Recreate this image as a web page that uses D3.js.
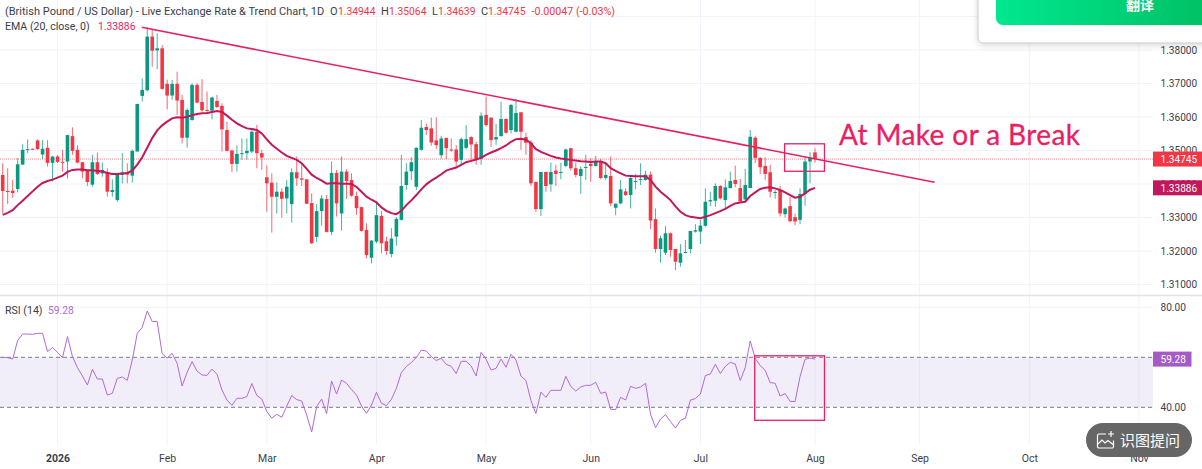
<!DOCTYPE html>
<html>
<head>
<meta charset="utf-8">
<title>GBP/USD</title>
<script src="https://cdn.jsdelivr.net/npm/d3@7"></script>
<style>
  html, body { margin: 0; padding: 0; background: #fff; overflow: hidden; }
  svg { display: block; }
  text { font-family: Roboto, sans-serif; }
</style>
</head>
<body>
<div id="chart"></div>
<script>
// daily candles
var opens = [
  1.3427,1.3379,1.3380,1.3385,1.3458,1.3502,1.3505,1.3530,1.3488,1.3508,
  1.3463,1.3482,1.3466,1.3467,1.3543,1.3502,1.3465,1.3442,1.3398,1.3465,
  1.3432,1.3435,1.3376,1.3352,1.3427,1.3435,1.3425,1.3497,1.3663,1.3680,
  1.3840,1.3799,1.3805,1.3699,1.3664,1.3699,1.3651,1.3538,1.3591,1.3696,
  1.3645,1.3621,1.3619,1.3648,1.3633,1.3561,1.3500,1.3460,1.3490,1.3492,
  1.3497,1.3556,1.3492,1.3420,1.3404,1.3362,1.3377,1.3357,1.3340,1.3435,
  1.3417,1.3414,1.3343,1.3242,1.3319,1.3355,1.3257,1.3433,1.3312,1.3437,
  1.3412,1.3364,1.3331,1.3263,1.3180,1.3228,1.3305,1.3229,1.3191,1.3243,
  1.3293,1.3397,1.3438,1.3392,1.3502,1.3570,1.3566,1.3530,1.3486,1.3537,
  1.3503,1.3503,1.3472,1.3508,1.3540,1.3519,1.3475,1.3606,1.3598,1.3533,
  1.3543,1.3594,1.3561,1.3556,1.3614,1.3540,1.3524,1.3406,1.3325,1.3436,
  1.3399,1.3440,1.3435,1.3454,1.3507,1.3447,1.3424,1.3449,1.3460,1.3454,
  1.3465,1.3418,1.3424,1.3329,1.3342,1.3378,1.3367,1.3407,1.3412,1.3412,
  1.3428,1.3295,1.3206,1.3195,1.3253,1.3206,1.3165,1.3195,1.3206,1.3258,
  1.3258,1.3275,1.3348,1.3350,1.3394,1.3352,1.3388,1.3412,1.3388,1.3354,
  1.3388,1.3538,1.3478,1.3454,1.3435,1.3375,1.3382,1.3310,1.3334,1.3301,
  1.3293,1.3370,1.3467,1.34944
];
var highs = [
  1.3462,1.3447,1.3412,1.3477,1.3519,1.3533,1.3506,1.3533,1.3531,1.3531,
  1.3484,1.3487,1.3502,1.3546,1.3569,1.3516,1.3465,1.3442,1.3487,1.3494,
  1.3464,1.3447,1.3414,1.3432,1.3492,1.3462,1.3503,1.3639,1.3715,1.3868,
  1.3860,1.3850,1.3815,1.3711,1.3711,1.3735,1.3666,1.3626,1.3701,1.3701,
  1.3713,1.3676,1.3661,1.3666,1.3641,1.3586,1.3502,1.3516,1.3536,1.3536,
  1.3566,1.3576,1.3502,1.3455,1.3432,1.3405,1.3387,1.3412,1.3447,1.3482,
  1.3457,1.3414,1.3372,1.3340,1.3367,1.3367,1.3467,1.3442,1.3482,1.3444,
  1.3432,1.3377,1.3331,1.3283,1.3233,1.3347,1.3320,1.3243,1.3268,1.3301,
  1.3487,1.3462,1.3480,1.3509,1.3591,1.3581,1.3598,1.3599,1.3544,1.3539,
  1.3536,1.3516,1.3539,1.3576,1.3543,1.3526,1.3614,1.3661,1.3599,1.3579,
  1.3646,1.3596,1.3639,1.3654,1.3614,1.3553,1.3531,1.3407,1.3436,1.3437,
  1.3464,1.3457,1.3464,1.3506,1.3508,1.3464,1.3452,1.3487,1.3477,1.3484,
  1.3475,1.3462,1.3482,1.3342,1.3412,1.3387,1.3427,1.3430,1.3462,1.3440,
  1.3437,1.3327,1.3246,1.3275,1.3255,1.3206,1.3221,1.3233,1.3260,1.3280,
  1.3293,1.3387,1.3377,1.3402,1.3397,1.3414,1.3437,1.3455,1.3416,1.3445,
  1.3561,1.3543,1.3480,1.3480,1.3457,1.3382,1.3394,1.3330,1.3362,1.3312,
  1.3387,1.3480,1.3495,1.35064
];
var lows = [
  1.3312,1.3340,1.3359,1.3375,1.3457,1.3492,1.3502,1.3502,1.3474,1.3452,
  1.3407,1.3462,1.3437,1.3417,1.3487,1.3462,1.3417,1.3394,1.3392,1.3427,
  1.3422,1.3362,1.3362,1.3347,1.3402,1.3402,1.3404,1.3497,1.3646,1.3676,
  1.3750,1.3743,1.3681,1.3623,1.3651,1.3606,1.3521,1.3509,1.3589,1.3641,
  1.3616,1.3616,1.3593,1.3626,1.3497,1.3497,1.3436,1.3437,1.3472,1.3472,
  1.3492,1.3447,1.3442,1.3317,1.3255,1.3312,1.3300,1.3312,1.3285,1.3394,
  1.3394,1.3340,1.3221,1.3227,1.3276,1.3255,1.3248,1.3303,1.3261,1.3355,
  1.3362,1.3308,1.3258,1.3178,1.3163,1.3223,1.3193,1.3188,1.3181,1.3216,
  1.3291,1.3382,1.3412,1.3382,1.3500,1.3546,1.3514,1.3504,1.3476,1.3474,
  1.3496,1.3447,1.3457,1.3503,1.3469,1.3457,1.3457,1.3571,1.3511,1.3516,
  1.3541,1.3549,1.3551,1.3554,1.3502,1.3487,1.3395,1.3317,1.3304,1.3377,
  1.3377,1.3394,1.3414,1.3450,1.3440,1.3420,1.3370,1.3412,1.3407,1.3452,
  1.3414,1.3412,1.3334,1.3307,1.3340,1.3364,1.3327,1.3384,1.3397,1.3410,
  1.3265,1.3195,1.3165,1.3188,1.3183,1.3143,1.3153,1.3193,1.3193,1.3255,
  1.3221,1.3273,1.3334,1.3332,1.3354,1.3327,1.3387,1.3390,1.3344,1.3347,
  1.3387,1.3462,1.3430,1.3412,1.3360,1.3356,1.3303,1.3300,1.3285,1.3277,
  1.3280,1.3335,1.3402,1.34639
];
var closes = [
  1.3379,1.3377,1.3373,1.3459,1.3502,1.3504,1.3503,1.3504,1.3505,1.3463,
  1.3482,1.3466,1.3464,1.3546,1.3499,1.3464,1.3437,1.3406,1.3465,1.3430,
  1.3442,1.3377,1.3382,1.3429,1.3435,1.3428,1.3499,1.3639,1.3681,1.3840,
  1.3798,1.3805,1.3684,1.3664,1.3699,1.3649,1.3538,1.3621,1.3696,1.3643,
  1.3620,1.3619,1.3658,1.3630,1.3563,1.3499,1.3460,1.3490,1.3492,1.3499,
  1.3556,1.3492,1.3479,1.3402,1.3362,1.3377,1.3356,1.3392,1.3435,1.3417,
  1.3413,1.3341,1.3223,1.3319,1.3357,1.3257,1.3433,1.3342,1.3437,1.3409,
  1.3365,1.3328,1.3260,1.3188,1.3231,1.3307,1.3223,1.3200,1.3237,1.3296,
  1.3394,1.3437,1.3465,1.3508,1.3568,1.3561,1.3524,1.3516,1.3536,1.3507,
  1.3501,1.3467,1.3534,1.3534,1.3518,1.3472,1.3604,1.3576,1.3531,1.3540,
  1.3594,1.3553,1.3636,1.3612,1.3556,1.3523,1.3402,1.3325,1.3436,1.3394,
  1.3436,1.3430,1.3436,1.3503,1.3447,1.3427,1.3445,1.3451,1.3454,1.3466,
  1.3418,1.3427,1.3342,1.3341,1.3384,1.3367,1.3418,1.3409,1.3415,1.3428,
  1.3291,1.3206,1.3238,1.3253,1.3203,1.3168,1.3193,1.3197,1.3260,1.3262,
  1.3276,1.3347,1.3352,1.3394,1.3357,1.3390,1.3409,1.3400,1.3348,1.3397,
  1.3541,1.3478,1.3450,1.3430,1.3377,1.3376,1.3312,1.3327,1.3289,1.3288,
  1.3370,1.3467,1.3479,1.34745
];
var ema = [
  1.3308,1.3314,1.3322,1.3337,1.3350,1.3364,1.3378,1.3392,1.3403,1.3409,
  1.3413,1.3419,1.3425,1.3436,1.3442,1.3443,1.3443,1.3441,1.3441,1.3439,
  1.3437,1.3433,1.3430,1.3430,1.3431,1.3433,1.3440,1.3458,1.3480,1.3508,
  1.3537,1.3560,1.3575,1.3586,1.3596,1.3599,1.3598,1.3601,1.3605,1.3609,
  1.3611,1.3612,1.3615,1.3618,1.3615,1.3604,1.3592,1.3581,1.3573,1.3566,
  1.3564,1.3561,1.3551,1.3533,1.3517,1.3505,1.3494,1.3484,1.3478,1.3472,
  1.3462,1.3445,1.3428,1.3418,1.3410,1.3401,1.3402,1.3402,1.3401,1.3401,
  1.3400,1.3391,1.3377,1.3362,1.3353,1.3345,1.3330,1.3320,1.3313,1.3310,
  1.3320,1.3337,1.3351,1.3367,1.3384,1.3399,1.3410,1.3419,1.3429,1.3440,
  1.3445,1.3449,1.3457,1.3465,1.3469,1.3473,1.3478,1.3487,1.3494,1.3500,
  1.3507,1.3515,1.3526,1.3534,1.3535,1.3532,1.3522,1.3504,1.3496,1.3490,
  1.3484,1.3479,1.3476,1.3474,1.3472,1.3470,1.3468,1.3467,1.3466,1.3467,
  1.3467,1.3462,1.3447,1.3439,1.3432,1.3425,1.3424,1.3423,1.3423,1.3423,
  1.3412,1.3392,1.3377,1.3365,1.3352,1.3333,1.3317,1.3307,1.3302,1.3300,
  1.3298,1.3302,1.3307,1.3313,1.3319,1.3326,1.3335,1.3342,1.3345,1.3347,
  1.3364,1.3375,1.3385,1.3389,1.3390,1.3387,1.3382,1.3375,1.3367,1.3359,
  1.3362,1.3372,1.3383,1.33886
];
var rsi = [
  60,59.9,59.3,66.7,69.3,69.3,69.2,69.6,69.6,62.3,
  63.9,62,59.9,68.3,60.3,55.9,52.5,48.9,55.2,51.3,
  51.3,44.9,45.6,51.6,52.1,50.8,58.9,69.6,72,78.5,
  74.3,74.3,61.5,59.7,61.6,57.6,48.5,54,58.3,54.5,
  52.9,52.8,55.3,53.2,46.9,42.9,40.8,43.6,43.6,44.3,
  49.5,44.7,43.3,38.3,35.6,37.2,36,40.5,44.7,43.1,
  42.5,36.9,30.1,40.3,43.3,37.5,50.5,45.3,50.9,49.6,
  47.1,44.9,40.5,37.6,40.9,46,41.6,40.7,43.2,47.6,
  53.9,56.3,57.9,59.9,62.9,62.5,60.3,58.7,59.6,57.2,
  56.4,53.5,58.4,58.4,56.5,52.5,62,59.2,54.9,55.6,
  59.3,56,61.2,58.9,52.5,50.7,42.7,37.5,46.1,44,
  46.8,46.8,46.8,52.4,48.3,46.5,48.1,48.8,48.8,50,
  45.6,46.1,39.2,39.1,44,42.9,48.4,47.6,48.1,49.6,
  37.2,31.9,35.3,37.1,34.3,31.7,34.8,35.6,42.9,43.5,
  45.3,52.7,53.3,57.2,53.5,56.4,58,57.3,50.7,55.9,
  66.5,59.6,56.7,54.8,49.9,49.6,44.5,45.5,42.4,42.3,
  52.3,59.2,59.7,59.28
];

var priceTicks = [1.31,1.32,1.33,1.34,1.35,1.36,1.37,1.38];
var priceGrid = [1.31,1.32,1.33,1.34,1.35,1.36,1.37,1.38,1.39];
var rsiTicks = [80,40];
var monthIndex = [11,33,53,75,97,118,140,163,184,206,228];
var monthLabels = ['2026','Feb','Mar','Apr','May','Jun','Jul','Aug','Sep','Oct','Nov'];

// drawings on the chart, [bar, price]
var trendLine = [[27.9,1.38678],[187,1.34051]];
var priceBox = [[156.9,1.3520],[164.9,1.3438]];
var rsiBox = [[150.9,60.6],[164.9,34.8]];

var lastClose = 1.34745, lastEma = 1.33886, lastRsi = 59.28;

var width = 1202, height = 469;
var plotRight = 1153;
var green = '#089981', red = '#f23645', pink = '#e91e63';

var svg = d3.select('#chart').append('svg').attr('width', width).attr('height', height);

var x = d3.scaleLinear().domain([0, 163]).range([2.7, 815]);
var y = d3.scaleLinear().domain([1.31, 1.38]).range([284.5, 50]);
var yRsi = d3.scaleLinear().domain([40, 80]).range([407.3, 307.3]);

var defs = svg.append('defs');
var clip = defs.append('clipPath').attr('id', 'plot');
clip.append('rect').attr('x', 0).attr('y', 0).attr('width', plotRight).attr('height', 295);
var grad = defs.append('linearGradient').attr('id', 'btn');
grad.append('stop').attr('offset', '0').attr('stop-color', '#00e890');
grad.append('stop').attr('offset', '1').attr('stop-color', '#00bf63');
var shadow = defs.append('filter').attr('id', 'shadow').attr('x', '-10%').attr('y', '-10%').attr('width', '120%').attr('height', '140%');
shadow.append('feDropShadow').attr('dx', 0).attr('dy', 2).attr('stdDeviation', 3).attr('flood-color', '#000').attr('flood-opacity', 0.15);

//================= grid ==================
var grid = svg.append('g').attr('stroke', '#f0f3fa').attr('stroke-width', 1);
grid.selectAll('.h').data(priceGrid).enter().append('line')
  .attr('x1', 0).attr('x2', plotRight)
  .attr('y1', function(d) { return y(d); }).attr('y2', function(d) { return y(d); });
grid.append('line').attr('x1', 0).attr('x2', plotRight).attr('y1', yRsi(80)).attr('y2', yRsi(80));
grid.selectAll('.v').data(monthIndex).enter().append('line')
  .attr('x1', function(d) { return x(d); }).attr('x2', function(d) { return x(d); })
  .attr('y1', 0).attr('y2', 445);

svg.append('line').attr('x1', 0).attr('x2', width).attr('y1', 295.5).attr('y2', 295.5)
  .attr('stroke', '#e0e3eb').attr('stroke-width', 1.5);

//================= rsi pane ==================
svg.append('rect').attr('x', 0).attr('width', plotRight)
  .attr('y', yRsi(60)).attr('height', yRsi(40) - yRsi(60))
  .attr('fill', '#7e57c2').attr('fill-opacity', 0.1);
[60, 40].forEach(function(v) {
  svg.append('line').attr('x1', 0).attr('x2', plotRight)
    .attr('y1', yRsi(v)).attr('y2', yRsi(v))
    .attr('stroke', '#787b86').attr('stroke-dasharray', '4 3');
});
var rsiLine = d3.line().x(function(d, i) { return x(i); }).y(function(d) { return yRsi(d); });
svg.append('path').datum(rsi).attr('d', rsiLine)
  .attr('fill', 'none').attr('stroke', '#b06ad8').attr('stroke-width', 1);

//================= price pane ==================
var plot = svg.append('g').attr('clip-path', 'url(#plot)');
plot.append('line').attr('x1', 0).attr('x2', plotRight)
  .attr('y1', y(lastClose)).attr('y2', y(lastClose))
  .attr('stroke', red).attr('stroke-opacity', 0.6).attr('stroke-dasharray', '1 1');

var bars = plot.selectAll('.bar').data(opens).enter().append('g');
bars.append('line')
  .attr('x1', function(d, i) { return x(i); }).attr('x2', function(d, i) { return x(i); })
  .attr('y1', function(d, i) { return y(highs[i]); }).attr('y2', function(d, i) { return y(lows[i]); })
  .attr('stroke', function(d, i) { return closes[i] >= d ? green : red; })
  .attr('stroke-opacity', 0.75);
bars.append('rect')
  .attr('x', function(d, i) { return x(i) - 1.8; }).attr('width', 3.6)
  .attr('y', function(d, i) { return y(Math.max(d, closes[i])); })
  .attr('height', function(d, i) { return Math.max(Math.abs(y(d) - y(closes[i])), 1); })
  .attr('fill', function(d, i) { return closes[i] >= d ? green : red; });

var emaLine = d3.line().x(function(d, i) { return x(i); }).y(function(d) { return y(d); });
plot.append('path').datum(ema).attr('d', emaLine)
  .attr('fill', 'none').attr('stroke', '#c2185b').attr('stroke-width', 2);

svg.append('line')
  .attr('x1', x(trendLine[0][0])).attr('y1', y(trendLine[0][1]))
  .attr('x2', x(trendLine[1][0])).attr('y2', y(trendLine[1][1]))
  .attr('stroke', pink).attr('stroke-width', 1.6);

svg.append('rect')
  .attr('x', x(priceBox[0][0])).attr('y', y(priceBox[0][1]))
  .attr('width', x(priceBox[1][0]) - x(priceBox[0][0]))
  .attr('height', y(priceBox[1][1]) - y(priceBox[0][1]))
  .attr('fill', 'none').attr('stroke', pink).attr('stroke-width', 1.3);
svg.append('rect')
  .attr('x', x(rsiBox[0][0])).attr('y', yRsi(rsiBox[0][1]))
  .attr('width', x(rsiBox[1][0]) - x(rsiBox[0][0]))
  .attr('height', yRsi(rsiBox[1][1]) - yRsi(rsiBox[0][1]))
  .attr('fill', 'none').attr('stroke', pink).attr('stroke-width', 1.3);

svg.append('text').attr('x', 839).attr('y', 145)
  .attr('fill', pink).attr('stroke', pink).attr('stroke-width', 0.3)
  .style('font-family', 'Lato').style('font-size', '28px')
  .attr('textLength', 241).text('At Make or a Break');

//================= axes ==================
var axisY = d3.axisRight(y).tickValues(priceTicks).tickSize(0).tickPadding(0).tickFormat(d3.format('.5f'));
var gy = svg.append('g').attr('transform', 'translate(1160.5,0)').call(axisY);
var axisR = d3.axisRight(yRsi).tickValues(rsiTicks).tickSize(0).tickPadding(0).tickFormat(d3.format('.2f'));
var gr = svg.append('g').attr('transform', 'translate(1160.5,0)').call(axisR);
var axisX = d3.axisBottom(x).tickValues(monthIndex).tickSize(0).tickPadding(0)
  .tickFormat(function(d) { return monthLabels[monthIndex.indexOf(d)]; });
var gx = svg.append('g').attr('transform', 'translate(0,455)').call(axisX);
[gy, gr, gx].forEach(function(g) {
  g.select('.domain').remove();
  g.selectAll('text').attr('fill', '#3a3e4a').style('font-size', '10.5px');
});
gy.selectAll('text').style('font-size', '10.1px');
gr.selectAll('text').style('font-size', '10.1px');
gx.selectAll('text').filter(function(d) { return d === 11; }).style('font-weight', 'bold');

function priceTag(value, text, color, w) {
  svg.append('rect').attr('x', plotRight).attr('y', value - 7.5).attr('width', w).attr('height', 15).attr('fill', color);
  svg.append('text').attr('x', 1160.5).attr('y', value + 3.7).attr('fill', '#fff').style('font-size', '10.1px').text(text);
}
priceTag(y(lastClose), d3.format('.5f')(lastClose), red, 49);
priceTag(y(lastEma), d3.format('.5f')(lastEma), '#c2185b', 49);
priceTag(yRsi(lastRsi), d3.format('.2f')(lastRsi), '#a55bc7', 38.5);

//================= legend ==================
var legend = svg.append('text').attr('y', 15).style('font-size', '11px').attr('fill', '#3a3e4a');
legend.append('tspan').attr('x', 5).text('(British Pound / US Dollar) - Live Exchange Rate & Trend Chart, 1D');
[['O','1.34944',330,338],['H','1.35064',381,389],['L','1.34639',432,438],['C','1.34745',481,488]].forEach(function(p) {
  legend.append('tspan').attr('x', p[2]).text(p[0]);
  legend.append('tspan').attr('x', p[3]).attr('fill', red).style('font-size', '10.3px').text(p[1]);
});
legend.append('tspan').attr('x', 531.5).attr('fill', red).style('font-size', '10.7px').text('-0.00047 (-0.03%)');

var legend2 = svg.append('text').attr('y', 30).style('font-size', '10.6px').attr('fill', '#3a3e4a');
legend2.append('tspan').attr('x', 5).text('EMA (20, close, 0)');
legend2.append('tspan').attr('x', 98).attr('fill', '#e91e63').style('font-size', '10.3px').text('1.33886');

var legend3 = svg.append('text').attr('y', 314).style('font-size', '10.6px').attr('fill', '#3a3e4a');
legend3.append('tspan').attr('x', 5).text('RSI (14)');
legend3.append('tspan').attr('x', 48).attr('fill', '#ab6fd8').style('font-size', '10.3px').text('59.28');

//================= page overlays ==================
svg.append('rect').attr('x', 978).attr('y', -10).attr('width', 240).attr('height', 53).attr('rx', 5)
  .attr('fill', '#fff').attr('stroke', '#c8c8c8').attr('filter', 'url(#shadow)');
svg.append('rect').attr('x', 996).attr('y', -12).attr('width', 220).attr('height', 37).attr('rx', 7)
  .attr('fill', 'url(#btn)');
svg.append('text').attr('x', 1140).attr('y', 10).attr('text-anchor', 'middle').attr('fill', '#fff')
  .style('font-family', '"Noto Sans CJK SC"').style('font-size', '14px').style('font-weight', 'bold').text('翻译');

svg.append('rect').attr('x', 1086).attr('y', 423).attr('width', 106).attr('height', 34).attr('rx', 17).attr('fill', '#666');
var icon = svg.append('g').attr('fill', 'none').attr('stroke', '#fff').attr('stroke-width', 1.2);
icon.append('path').attr('d', 'M1106 434 h-7 a1.5 1.5 0 0 0 -1.5 1.5 v11 a1.5 1.5 0 0 0 1.5 1.5 h13 a1.5 1.5 0 0 0 1.5 -1.5 v-6');
icon.append('path').attr('d', 'M1098 444 l4 -4 l3 3 l3 -2.5 l5 4');
icon.append('path').attr('d', 'M1111 431 v6 M1108 434 h6');
svg.append('text').attr('x', 1120).attr('y', 445.5).attr('fill', '#fff')
  .style('font-family', '"Noto Sans CJK SC"').style('font-size', '15px').text('识图提问');
</script>
</body>
</html>
